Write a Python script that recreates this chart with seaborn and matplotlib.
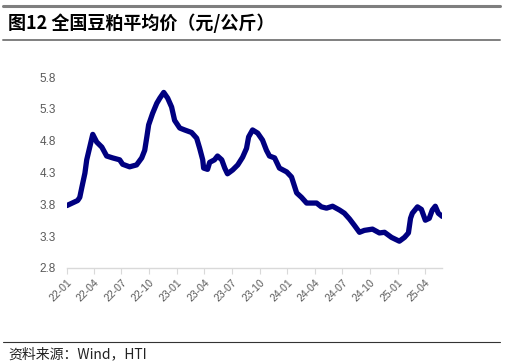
import matplotlib
matplotlib.use("Agg")
import matplotlib.pyplot as plt
import matplotlib.lines as mlines
import pandas as pd
import seaborn as sns

dates = [
    "2022-01-01", "2022-02-06", "2022-02-13", "2022-02-20", "2022-03-02", "2022-03-08",
    "2022-03-18", "2022-03-28", "2022-04-10", "2022-04-27", "2022-05-13", "2022-06-02",
    "2022-06-25", "2022-07-05", "2022-07-28", "2022-08-20", "2022-09-06", "2022-09-16",
    "2022-09-23", "2022-09-29", "2022-10-12", "2022-10-26", "2022-11-05", "2022-11-18",
    "2022-12-01", "2022-12-14", "2022-12-24", "2023-01-10", "2023-01-26", "2023-02-18",
    "2023-03-07", "2023-03-17", "2023-03-27", "2023-03-30", "2023-04-12", "2023-04-19",
    "2023-05-05", "2023-05-15", "2023-05-29", "2023-06-08", "2023-06-17", "2023-07-04",
    "2023-07-21", "2023-08-06", "2023-08-19", "2023-08-26", "2023-09-08", "2023-09-25",
    "2023-10-11", "2023-10-24", "2023-11-03", "2023-11-20", "2023-12-06", "2023-12-30",
    "2024-01-15", "2024-02-01", "2024-02-17", "2024-03-05", "2024-03-21", "2024-04-07",
    "2024-04-23", "2024-05-10", "2024-05-30", "2024-06-22", "2024-07-08", "2024-07-25",
    "2024-08-10", "2024-08-27", "2024-09-12", "2024-10-09", "2024-11-01", "2024-11-18",
    "2024-12-11", "2025-01-06", "2025-01-23", "2025-02-05", "2025-02-12", "2025-02-18",
    "2025-03-07", "2025-03-20", "2025-04-02", "2025-04-15", "2025-04-25", "2025-05-05",
    "2025-05-15", "2025-05-28",
]
prices = [
    3.78, 3.86, 3.91, 4.07, 4.29, 4.50,
    4.70, 4.90, 4.78, 4.70, 4.56, 4.53,
    4.50, 4.43, 4.39, 4.42, 4.53, 4.65,
    4.86, 5.05, 5.23, 5.39, 5.47, 5.56,
    5.47, 5.33, 5.12, 5.00, 4.97, 4.93,
    4.84, 4.68, 4.50, 4.37, 4.35, 4.46,
    4.50, 4.56, 4.50, 4.37, 4.28, 4.34,
    4.42, 4.54, 4.68, 4.86, 4.97, 4.92,
    4.81, 4.65, 4.56, 4.53, 4.37, 4.31,
    4.23, 3.98, 3.91, 3.82, 3.82, 3.82,
    3.76, 3.74, 3.77, 3.71, 3.66, 3.57,
    3.47, 3.36, 3.39, 3.41, 3.35, 3.36,
    3.28, 3.22, 3.28, 3.35, 3.58, 3.66,
    3.76, 3.72, 3.55, 3.58, 3.71, 3.77,
    3.66, 3.61,
]
yticks = [2.8, 3.3, 3.8, 4.3, 4.8, 5.3, 5.8]
xtick_months = ["2022-01", "2022-04", "2022-07", "2022-10", "2023-01", "2023-04", "2023-07",
                "2023-10", "2024-01", "2024-04", "2024-07", "2024-10", "2025-01", "2025-04"]
title = "图12 全国豆粕平均价（元/公斤）"
source = "资料来源：Wind，HTI"

df = pd.DataFrame({"date": pd.to_datetime(dates), "price": prices})

sns.set_style("white")
plt.rcParams["font.family"] = ["Noto Sans CJK SC", "DejaVu Sans"]

fig = plt.figure(figsize=(5.06, 3.64), dpi=100)
ax = fig.add_axes([0.132, 0.264, 0.742, 0.524])

sns.lineplot(data=df, x="date", y="price", ax=ax, color="#000080", linewidth=3.8,
             solid_capstyle="round", solid_joinstyle="round")

ax.set_ylim(2.8, 5.8)
ax.set_yticks(yticks)
ax.set_yticklabels([f"{v:.1f}" for v in yticks], fontsize=8.5, color="#595959",
                   family=["Liberation Sans", "DejaVu Sans"])
ax.set_xlim(pd.Timestamp("2022-01-01"), pd.Timestamp("2025-05-28"))
xt = pd.to_datetime(xtick_months)
ax.set_xticks(xt)
ax.set_xticklabels([d.strftime("%y-%m") for d in xt], rotation=45, ha="right",
                   rotation_mode="anchor", fontsize=7.5, color="#595959",
                   family=["Liberation Sans", "DejaVu Sans"])
ax.set_xlabel("")
ax.set_ylabel("")
for s in ["top", "right", "left"]:
    ax.spines[s].set_visible(False)
ax.spines["bottom"].set_color("#d9d9d9")
ax.spines["bottom"].set_linewidth(1.0)
ax.tick_params(axis="x", which="both", bottom=True, length=4, color="#d9d9d9", pad=3)
ax.tick_params(axis="y", length=0, pad=8)
ax.grid(False)

# header / footer decoration
fig.add_artist(mlines.Line2D([3 / 506, 500 / 506], [1 - 6 / 364, 1 - 6 / 364],
                             color="#7f7f7f", linewidth=2.2))
fig.add_artist(mlines.Line2D([3 / 506, 500 / 506], [1 - 40 / 364, 1 - 40 / 364],
                             color="#7f7f7f", linewidth=1.4))
fig.add_artist(mlines.Line2D([3 / 506, 500 / 506], [1 - 342 / 364, 1 - 342 / 364],
                             color="#333333", linewidth=0.8))
fig.text(8 / 506, 1 - 23 / 364, title, fontsize=13, fontweight="bold", va="center",
         ha="left", color="black")
fig.text(8 / 506, 1 - 354 / 364, source, fontsize=10, va="center", ha="left", color="#222222")

fig.savefig("out.png", dpi=100)
